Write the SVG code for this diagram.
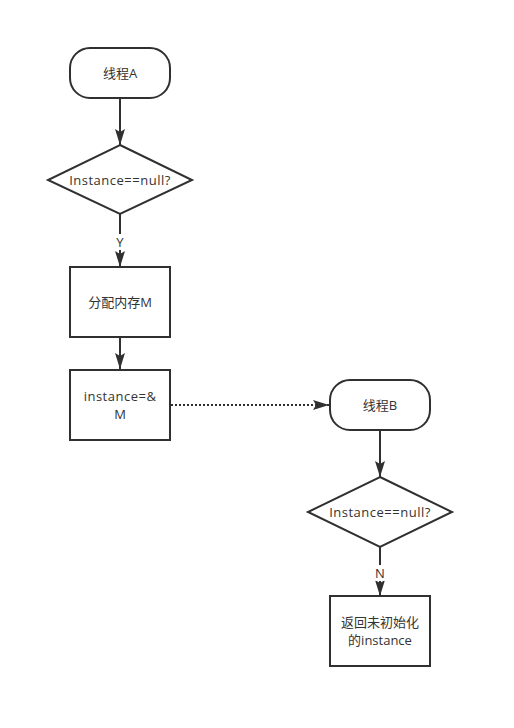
<svg xmlns="http://www.w3.org/2000/svg" width="514" height="728" viewBox="0 0 514 728">
<style>
.shape{fill:#fff;stroke:#303030;stroke-width:2}
.conn{fill:none;stroke:#303030;stroke-width:2}
.dot{stroke-dasharray:2 2}
text{font-family:"Open Sans","Noto Sans CJK SC",sans-serif;font-size:13px;fill:#333;text-anchor:middle;dominant-baseline:central}
.wide{letter-spacing:0.5px}
.lbl{fill:#fff;stroke:none}
</style>
<defs>
<marker id="arr" viewBox="0 0 16 10" refX="16" refY="5" markerWidth="16" markerHeight="10" markerUnits="userSpaceOnUse" orient="auto">
<path d="M16,5 L0,0 L3,5 L0,10 Z" fill="#303030"/>
</marker>
</defs>
<rect width="514" height="728" fill="#fff"/>
<g id="connectors">
<path class="conn" d="M120,98 L120,145" marker-end="url(#arr)"/>
<path class="conn" d="M120,214 L120,267" marker-end="url(#arr)"/>
<path class="conn" d="M120,337 L120,369" marker-end="url(#arr)"/>
<path class="conn dot" d="M171,405 L329,405" marker-end="url(#arr)"/>
<path class="conn" d="M380,430 L380,477" marker-end="url(#arr)"/>
<path class="conn" d="M380,547 L380,596" marker-end="url(#arr)"/>
<rect class="lbl" x="113" y="234" width="14" height="16"/>
<text x="120" y="242">Y</text>
<rect class="lbl" x="373" y="565" width="14" height="16"/>
<text x="380" y="573">N</text>
</g>
<g id="threadA">
<rect class="shape" x="70" y="48" width="100" height="50" rx="20" ry="20"/>
<text x="120" y="73">线程A</text>
</g>
<g id="check1">
<polygon class="shape" points="120,145 192,180 120,214 48,180"/>
<text class="wide" x="120" y="180">Instance==null?</text>
</g>
<g id="alloc">
<rect class="shape" x="70" y="267" width="100" height="70"/>
<text x="120" y="302">分配内存M</text>
</g>
<g id="assign">
<rect class="shape" x="70" y="370" width="100" height="70"/>
<text class="wide" x="120" y="396">instance=&amp;</text>
<text x="120" y="414">M</text>
</g>
<g id="threadB">
<rect class="shape" x="330" y="380" width="100" height="50" rx="20" ry="20"/>
<text x="380" y="405">线程B</text>
</g>
<g id="check2">
<polygon class="shape" points="380,477 452,512 380,547 308,512"/>
<text class="wide" x="380" y="512">Instance==null?</text>
</g>
<g id="ret">
<rect class="shape" x="330" y="596" width="100" height="70"/>
<text x="380" y="622">返回未初始化</text>
<text x="380" y="640">的instance</text>
</g>
</svg>
